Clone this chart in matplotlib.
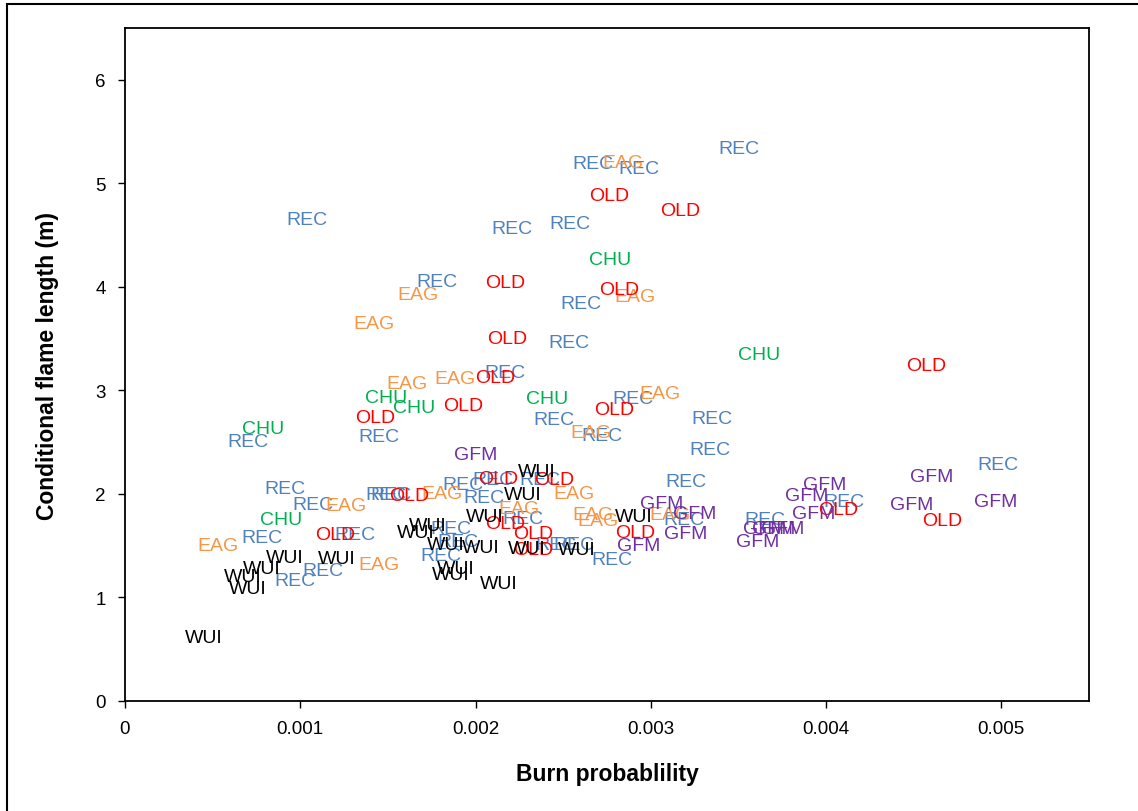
import matplotlib
matplotlib.use("Agg")
import matplotlib.pyplot as plt
from matplotlib.patches import Rectangle

plt.rcParams['font.family'] = ['Liberation Sans', 'DejaVu Sans']

# Burn probability (x) and conditional flame length in m (y) per land class
rec_x = [0.00350, 0.00267, 0.00293, 0.00104, 0.00221, 0.00254, 0.00178, 0.00260,
         0.00253, 0.00217, 0.00290, 0.00335, 0.00245, 0.00070, 0.00145, 0.00272,
         0.00334, 0.00498, 0.00320, 0.00091, 0.00107, 0.00149, 0.00152, 0.00193,
         0.00205, 0.00210, 0.00237, 0.00227, 0.00186, 0.00190, 0.00180, 0.00131,
         0.00078, 0.00113, 0.00097, 0.00246, 0.00256, 0.00278, 0.00319, 0.00365,
         0.00410]
rec_y = [5.36, 5.21, 5.16, 4.67, 4.58, 4.63, 4.07, 3.86,
         3.48, 3.19, 2.94, 2.75, 2.74, 2.53, 2.57, 2.58,
         2.45, 2.30, 2.14, 2.07, 1.92, 2.01, 2.01, 2.11,
         1.98, 2.16, 2.16, 1.78, 1.69, 1.56, 1.42, 1.63,
         1.60, 1.28, 1.18, 1.53, 1.53, 1.39, 1.77, 1.77,
         1.95]

eag_x = [0.00284, 0.00167, 0.00291, 0.00142, 0.00161, 0.00188, 0.00305, 0.00266,
         0.00126, 0.00181, 0.00256, 0.00225, 0.00267, 0.00270, 0.00311, 0.00053,
         0.00145]
eag_y = [5.22, 3.95, 3.93, 3.67, 3.09, 3.13, 2.99, 2.61,
         1.91, 2.02, 2.02, 1.88, 1.82, 1.76, 1.82, 1.52,
         1.34]

old_x = [0.00276, 0.00317, 0.00217, 0.00282, 0.00218, 0.00457, 0.00211, 0.00193,
         0.00143, 0.00279, 0.00213, 0.00245, 0.00162, 0.00120, 0.00217, 0.00233,
         0.00233, 0.00291, 0.00407, 0.00466]
old_y = [4.90, 4.76, 4.06, 3.99, 3.52, 3.26, 3.14, 2.87,
         2.76, 2.83, 2.17, 2.16, 2.00, 1.63, 1.73, 1.64,
         1.48, 1.65, 1.87, 1.76]

chu_x = [0.00277, 0.00362, 0.00149, 0.00165, 0.00241, 0.00079, 0.00089]
chu_y = [4.28, 3.37, 2.95, 2.85, 2.94, 2.65, 1.77]

gfm_x = [0.00200, 0.00460, 0.00399, 0.00389, 0.00497, 0.00449, 0.00393, 0.00306,
         0.00325, 0.00320, 0.00293, 0.00365, 0.00370, 0.00375, 0.00361]
gfm_y = [2.40, 2.19, 2.11, 2.00, 1.95, 1.92, 1.83, 1.93,
         1.83, 1.64, 1.52, 1.69, 1.69, 1.69, 1.56]

wui_x = [0.00235, 0.00227, 0.00205, 0.00290, 0.00173, 0.00166, 0.00183, 0.00203,
         0.00229, 0.00258, 0.00189, 0.00186, 0.00213, 0.00091, 0.00121, 0.00078,
         0.00067, 0.00070, 0.00045]
wui_y = [2.24, 2.01, 1.80, 1.80, 1.71, 1.65, 1.53, 1.50,
         1.49, 1.48, 1.30, 1.24, 1.15, 1.41, 1.40, 1.30,
         1.22, 1.11, 0.63]

x_ticks = [0, 0.001, 0.002, 0.003, 0.004, 0.005]
x_tick_labels = ['0', '0.001', '0.002', '0.003', '0.004', '0.005']
y_ticks = [0, 1, 2, 3, 4, 5, 6]

groups = [
    ('REC', rec_x, rec_y, '#4F81BD'),
    ('EAG', eag_x, eag_y, '#F79646'),
    ('CHU', chu_x, chu_y, '#00B050'),
    ('OLD', old_x, old_y, '#FF0000'),
    ('GFM', gfm_x, gfm_y, '#7030A0'),
    ('WUI', wui_x, wui_y, '#000000'),
]

fig = plt.figure(figsize=(11.38, 8.12), dpi=100)
ax = fig.add_axes([125 / 1138, 110 / 812, 964 / 1138, 673 / 812])

for name, xs, ys, color in groups:
    for xv, yv in zip(xs, ys):
        ax.text(xv, yv, name, color=color, fontsize=14, ha='center',
                va='center_baseline')

ax.set_xlim(0, 0.0055)
ax.set_ylim(0, 6.5)
ax.set_xticks(x_ticks)
ax.set_xticklabels(x_tick_labels)
ax.set_yticks(y_ticks)
ax.tick_params(direction='out', length=5, width=1, labelsize=13.5, pad=9)
for s in ax.spines.values():
    s.set_linewidth(1.3)

ax.set_xlabel('Burn probablility', fontsize=16.5, fontweight='bold', labelpad=18)
ax.set_ylabel('Conditional flame length (m)', fontsize=16.5, fontweight='bold',
              labelpad=26)

# Outer frame around the figure
fig.patches.append(Rectangle((7 / 1138, -0.1), 1.2, 1.1 - 5 / 812,
                             transform=fig.transFigure, fill=False,
                             edgecolor='black', linewidth=1.5, clip_on=False))

fig.savefig('out.png', dpi=100)
